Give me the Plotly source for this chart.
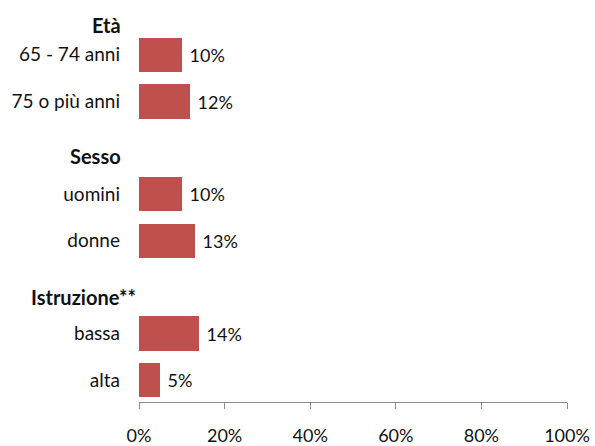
import plotly.graph_objects as go

# Survey breakdown: share (%) by group
group_titles = ["Età", "Sesso", "Istruzione**"]
group_items = [
    ["65 - 74 anni", "75 o più anni"],
    ["uomini", "donne"],
    ["bassa", "alta"],
]
group_values = [
    [10, 12],
    [10, 13],
    [14, 5],
]
x_ticks = [0, 20, 40, 60, 80, 100]

FONT = "Lato"
BAR_COLOR = "#C0504D"
AXIS_COLOR = "#8C8C8C"
TEXT_COLOR = "#111111"

# Lay out rows top-to-bottom: one header slot, then the group's items
labels, values, positions, header_pos = [], [], [], []
n_slots = sum(len(items) + 1 for items in group_items)
slot = n_slots - 1
for title, items, vals in zip(group_titles, group_items, group_values):
    header_pos.append(slot)
    slot -= 1
    for lab, v in zip(items, vals):
        labels.append(lab)
        values.append(v)
        positions.append(slot)
        slot -= 1

fig = go.Figure(
    go.Bar(
        x=values,
        y=positions,
        orientation="h",
        marker=dict(color=BAR_COLOR, line=dict(width=0)),
        width=0.74,
        text=[f" {v}%" for v in values],
        textposition="outside",
        textfont=dict(family=FONT, size=18, color=TEXT_COLOR),
        cliponaxis=False,
        hoverinfo="skip",
    )
)

# Bold group headings placed just above each group's rows
header_offsets = [-0.35, -0.17, -0.21]
header_xshift = [-16, -16, -1]
for title, pos, dy, dx in zip(group_titles, header_pos, header_offsets, header_xshift):
    fig.add_annotation(
        text=f"<b>{title}</b>",
        x=0, xref="paper", xanchor="right", xshift=dx,
        y=pos + dy, yref="y", yanchor="middle",
        showarrow=False,
        font=dict(family=FONT, size=20, color=TEXT_COLOR),
    )

fig.update_layout(
    width=595,
    height=446,
    margin=dict(l=139, r=28, t=0, b=41),
    paper_bgcolor="white",
    plot_bgcolor="white",
    showlegend=False,
    bargap=0,
    xaxis=dict(
        range=[0, 100],
        tickvals=x_ticks,
        ticktext=[f"{t}%" for t in x_ticks],
        showgrid=False,
        zeroline=False,
        showline=True,
        linecolor=AXIS_COLOR,
        linewidth=1,
        ticks="outside",
        ticklen=6,
        tickcolor=AXIS_COLOR,
        tickfont=dict(family=FONT, size=18, color=TEXT_COLOR),
        ticklabelstandoff=11,
        fixedrange=True,
    ),
    yaxis=dict(
        range=[-0.47, 8.18],
        tickvals=positions,
        ticktext=labels,
        showgrid=False,
        zeroline=False,
        showline=False,
        ticks="",
        ticklabelstandoff=18,
        tickfont=dict(family=FONT, size=19, color=TEXT_COLOR),
        fixedrange=True,
    ),
)

fig.write_html("out.html", config={"displayModeBar": False})
